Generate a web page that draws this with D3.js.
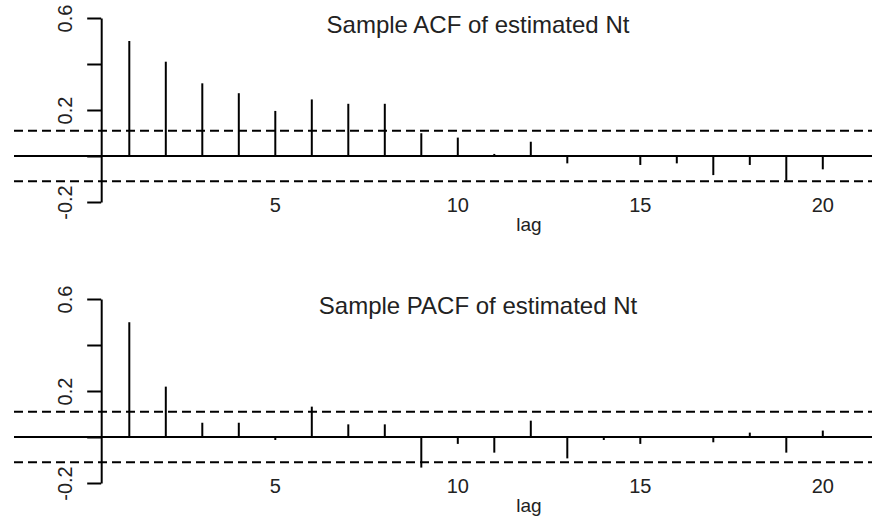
<!DOCTYPE html>
<html>
<head>
<meta charset="utf-8">
<script src="https://cdn.jsdelivr.net/npm/d3@7"></script>
<style>
  body { margin: 0; background: #fff; }
  text { font-family: "Liberation Sans", Arial, sans-serif; fill: #222; }
</style>
</head>
<body>
<div id="chart"></div>
<script>
// lags shown on both plots
const lags = d3.range(1, 21);

// sample autocorrelations
const acfValues = [0.50, 0.41, 0.316, 0.273, 0.196, 0.246, 0.227, 0.227, 0.099, 0.08,
  0.009, 0.062, -0.032, 0.0, -0.039, -0.032, -0.083, -0.039, -0.107, -0.058];

// sample partial autocorrelations
const pacfValues = [0.499, 0.219, 0.062, 0.062, -0.013, 0.132, 0.055, 0.055, -0.133, -0.03,
  -0.068, 0.071, -0.093, -0.013, -0.03, 0.0, -0.023, 0.019, -0.068, 0.028];

const confBound = 0.11;

const yTicks = [-0.2, 0, 0.2, 0.4, 0.6];
const yTickLabels = { "-0.2": "-0.2", "0.2": "0.2", "0.6": "0.6" };
const xTicks = [5, 10, 15, 20];

const panels = [
  { title: "Sample ACF of estimated Nt", values: acfValues, offset: 0 },
  { title: "Sample PACF of estimated Nt", values: pacfValues, offset: 281 }
];

const width = 872;
const height = 520;

const svg = d3.select('#chart')
  .append('svg')
  .attr('width', width)
  .attr('height', height);

// lag scale shared by both panels
const x = d3.scaleLinear()
  .domain([0, 20])
  .range([92.8, 92.8 + 20 * 36.5]);

const axisLag = 0.23;   // where the y axis sits
const lineLeft = 14;    // horizontal reference lines start here
const lineRight = width;

panels.forEach(p => {
  const g = svg.append('g')
    .attr('transform', `translate(0,${p.offset})`);

  const y = d3.scaleLinear()
    .domain([-0.2, 0.6])
    .range([202, 18]);

  // zero line
  g.append('line')
    .attr('x1', lineLeft)
    .attr('x2', lineRight)
    .attr('y1', y(0))
    .attr('y2', y(0))
    .attr('stroke', '#000')
    .attr('stroke-width', 2);

  // confidence bounds
  g.selectAll('line.bound')
    .data([confBound, -confBound])
    .enter()
    .append('line')
    .attr('class', 'bound')
    .attr('x1', lineLeft)
    .attr('x2', lineRight)
    .attr('y1', d => y(d))
    .attr('y2', d => y(d))
    .attr('stroke', '#000')
    .attr('stroke-width', 2)
    .attr('stroke-dasharray', '9,5');

  // spikes
  g.selectAll('line.spike')
    .data(p.values)
    .enter()
    .append('line')
    .attr('class', 'spike')
    .attr('x1', (d, i) => x(lags[i]))
    .attr('x2', (d, i) => x(lags[i]))
    .attr('y1', y(0))
    .attr('y2', d => y(d))
    .attr('stroke', '#000')
    .attr('stroke-width', 2);

  // y axis, R style with rotated labels
  const yAxis = g.append('g')
    .attr('transform', `translate(${x(axisLag)},0)`)
    .call(d3.axisLeft(y)
      .tickValues(yTicks)
      .tickSize(14)
      .tickSizeOuter(0)
      .tickFormat(d => yTickLabels[String(d)] || ''));

  yAxis.select('.domain')
    .attr('stroke', '#000')
    .attr('stroke-width', 2);
  yAxis.selectAll('.tick line')
    .attr('stroke', '#000')
    .attr('stroke-width', 2);
  yAxis.selectAll('.tick text')
    .attr('x', null)
    .attr('dy', null)
    .attr('transform', `translate(${72 - x(axisLag)},0) rotate(-90)`)
    .attr('text-anchor', 'middle')
    .style('font-size', '20px')
    .style('font-family', '"Liberation Sans", Arial, sans-serif')
    .attr('fill', '#222');

  // x tick labels only, no axis line
  g.selectAll('text.xtick')
    .data(xTicks)
    .enter()
    .append('text')
    .attr('class', 'xtick')
    .attr('x', d => x(d))
    .attr('y', 211.5)
    .attr('text-anchor', 'middle')
    .style('font-size', '20px')
    .text(d => d);

  g.append('text')
    .attr('x', 529)
    .attr('y', 231)
    .attr('text-anchor', 'middle')
    .style('font-size', '19px')
    .text('lag');

  g.append('text')
    .attr('x', 478)
    .attr('y', 33)
    .attr('text-anchor', 'middle')
    .style('font-size', '24px')
    .text(p.title);
});
</script>
</body>
</html>
